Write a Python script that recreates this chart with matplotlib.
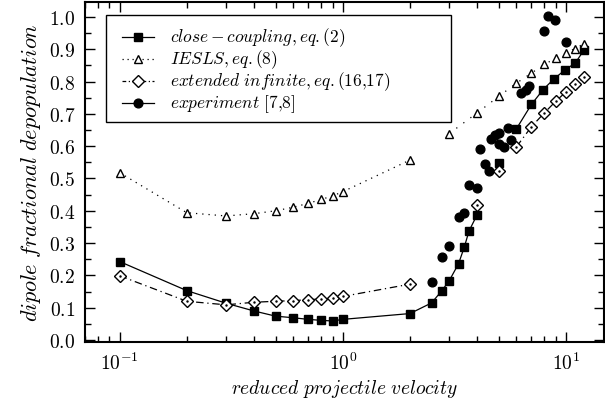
import matplotlib
matplotlib.use('Agg')
import matplotlib.pyplot as plt
from matplotlib.ticker import FixedLocator, FixedFormatter, LogLocator, MultipleLocator, NullFormatter
from matplotlib.lines import Line2D
from matplotlib.patches import Rectangle

plt.rcParams['mathtext.fontset'] = 'cm'
plt.rcParams['font.family'] = ['DejaVu Serif']

# close-coupling, eq.(2)
cc_x = [0.1, 0.2, 0.3, 0.4, 0.5, 0.6, 0.7, 0.8, 0.9, 1.0, 2.0, 2.5, 2.78, 3.0, 3.3, 3.5, 3.68, 4.0,
        5.0, 6.0, 7.0, 7.9, 8.8, 9.9, 11.0, 12.0]
cc_y = [0.243, 0.153, 0.114, 0.090, 0.074, 0.069, 0.064, 0.061, 0.059, 0.064, 0.082, 0.115, 0.153,
        0.184, 0.236, 0.287, 0.338, 0.388, 0.548, 0.654, 0.729, 0.775, 0.807, 0.836, 0.857, 0.896]

# IESLS, eq.(8)
ie_x = [0.1, 0.2, 0.3, 0.4, 0.5, 0.6, 0.7, 0.8, 0.9, 1.0, 2.0,
        3.0, 4.0, 5.0, 6.0, 7.0, 8.0, 9.0, 10.0, 11.0, 12.0]
ie_y = [0.518, 0.394, 0.384, 0.391, 0.400, 0.411, 0.423, 0.435, 0.446, 0.459, 0.557,
        0.639, 0.703, 0.754, 0.795, 0.826, 0.853, 0.872, 0.889, 0.902, 0.917]

# extended infinite, eq.(16,17)
ex_x = [0.1, 0.2, 0.3, 0.4, 0.5, 0.6, 0.7, 0.8, 0.9, 1.0, 2.0,
        4.0, 5.0, 6.0, 7.0, 8.0, 9.0, 10.0, 11.0, 12.0]
ex_y = [0.199, 0.120, 0.109, 0.117, 0.120, 0.122, 0.125, 0.127, 0.129, 0.135, 0.173,
        0.418, 0.522, 0.598, 0.660, 0.703, 0.739, 0.768, 0.792, 0.813]

# experiment [7,8]
exp_x = [2.5, 2.78, 3.0, 3.3, 3.48, 3.68, 4.0, 4.1, 4.33, 4.53, 4.6, 4.8, 5.0, 5.0, 5.3, 5.5,
         5.65, 6.3, 6.6, 6.85, 8.0, 8.3, 8.9, 10.0]
exp_y = [0.180, 0.258, 0.290, 0.381, 0.392, 0.480, 0.469, 0.590, 0.546, 0.522, 0.622, 0.635,
         0.640, 0.608, 0.596, 0.657, 0.619, 0.765, 0.775, 0.785, 0.955, 1.003, 0.989, 0.923]

yticks = [0.0, 0.1, 0.2, 0.3, 0.4, 0.5, 0.6, 0.7, 0.8, 0.9, 1.0]
xticks = [0.1, 1.0, 10.0]
xticklabels = [r'$10^{-1}$', r'$10^{0}$', r'$10^{1}$']
legend_labels = [r'$close-coupling, eq.(2)$', r'$IESLS, eq.(8)$',
                 r'$extended\ infinite, eq.(16{,}17)$', r'$experiment\ [7{,}8]$']

W, H = 605, 402
fig = plt.figure(figsize=(W / 100, H / 100), dpi=100)
ax = fig.add_axes([85 / W, 1 - 343 / H, (604 - 85) / W, (343 - 3) / H])

lw = 0.9
dot = (0, (1, 4))
dashdot = (0, (6, 3, 1, 3))
# close-coupling
ax.plot(cc_x[:18], cc_y[:18], '-', color='black', lw=lw)
ax.plot(cc_x[19:], cc_y[19:], '-', color='black', lw=lw)
ax.plot(cc_x, cc_y, 's', color='black', ms=5.8, ls='none')
# IESLS
ax.plot(ie_x[:11], ie_y[:11], color='black', lw=lw, ls=dot)
ax.plot(ie_x[11:], ie_y[11:], color='black', lw=lw, ls=(0, (1, 6)))
ax.plot(ie_x, ie_y, '^', mfc='white', mec='black', mew=1.0, ms=5.8, ls='none')
# extended infinite
ax.plot(ex_x[:11], ex_y[:11], color='black', lw=lw, ls=dashdot)
ax.plot(ex_x[13:], ex_y[13:], color='black', lw=lw, ls=dashdot)
ax.plot(ex_x, ex_y, 'D', mfc='white', mec='black', mew=1.0, ms=6, ls='none')
ax.plot(ex_x, ex_y, '.', color='black', ms=1.5, ls='none')
# experiment
ax.plot(exp_x, exp_y, 'o', color='black', ms=6.3, ls='none')

ax.set_xscale('log')
ax.set_xlim(0.07, 14.8)
ax.set_ylim(-0.006, 1.046)

ax.xaxis.set_major_locator(FixedLocator(xticks))
ax.xaxis.set_major_formatter(FixedFormatter(xticklabels))
ax.xaxis.set_minor_locator(LogLocator(base=10, subs=range(2, 10), numticks=20))
ax.xaxis.set_minor_formatter(NullFormatter())
ax.yaxis.set_major_locator(FixedLocator(yticks))
ax.yaxis.set_major_formatter(FixedFormatter([r'$%.1f$' % v for v in yticks]))
ax.yaxis.set_minor_locator(MultipleLocator(0.05))

ax.tick_params(which='both', direction='in', top=True, right=True, width=1.0, labelsize=14)
ax.tick_params(which='major', length=7, pad=7)
ax.tick_params(which='minor', length=4)
for s in ax.spines.values():
    s.set_linewidth(1.5)

ax.set_xlabel(r'$reduced\ projectile\ velocity$', fontsize=14, labelpad=3)
ax.set_ylabel(r'$dipole\ fractional\ depopulation$', fontsize=16, labelpad=4)

# manual legend (figure pixel coordinates)
def fx(px):
    return px / W

def fy(py):
    return 1 - py / H

frame = Rectangle((fx(106), fy(123)), fx(451) - fx(106), fy(16) - fy(123),
                  transform=fig.transFigure, fill=True, facecolor='white',
                  edgecolor='black', lw=1.0, zorder=5)
fig.add_artist(frame)
styles = [
    dict(ls='-', marker='s', mfc='black', ms=5.8),
    dict(ls=(0, (1, 3)), marker='^', mfc='white', ms=5.8),
    dict(ls=(0, (3, 2, 1, 2)), marker='D', mfc='white', ms=6),
    dict(ls='-', marker='o', mfc='black', ms=6.3),
]
for i, (lab, st) in enumerate(zip(legend_labels, styles)):
    yy = fy(38 + 22 * i)
    ln = Line2D([fx(122), fx(154)], [yy, yy], transform=fig.transFigure, color='black',
                lw=lw, ls=st['ls'], zorder=6)
    fig.add_artist(ln)
    mk = Line2D([fx(138)], [yy], transform=fig.transFigure, marker=st['marker'],
                mfc=st['mfc'], mec='black', mew=1.0, ms=st['ms'], ls='none', zorder=7)
    fig.add_artist(mk)
    fig.text(fx(170), yy, lab, fontsize=12.5, va='center', ha='left', zorder=7)

fig.savefig('out.png', dpi=100)
